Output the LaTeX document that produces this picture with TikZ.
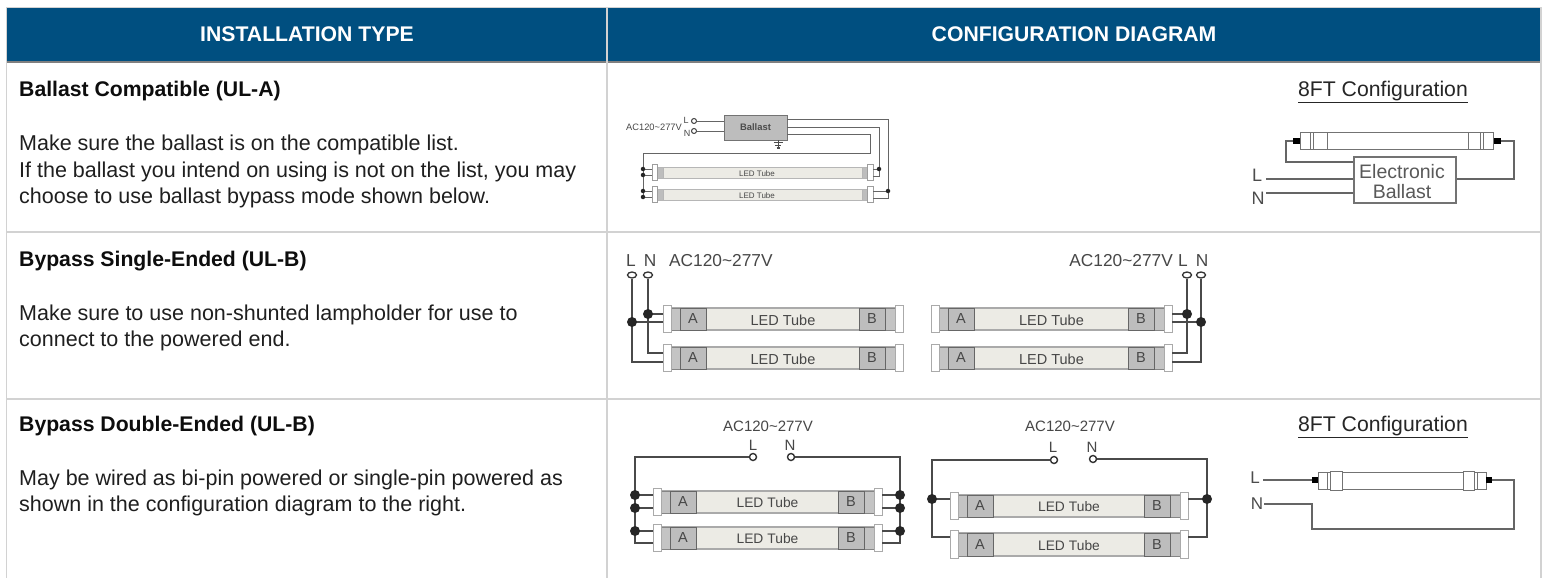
\documentclass[tikz,border=0pt]{standalone}
\usepackage{fontspec}
\setmainfont{Liberation Sans}
\usetikzlibrary{calc,shapes.geometric}
\definecolor{headblue}{HTML}{004F80}
\definecolor{gridgray}{HTML}{D2D2D2}
\definecolor{wirecol}{HTML}{4A4A4A}
\definecolor{labelcol}{HTML}{474747}
\definecolor{bodycol}{HTML}{ECEBE5}
\definecolor{boxcol}{HTML}{BDBDBD}
\definecolor{edgecol}{HTML}{858585}
\newcommand{\fs}[1]{\fontsize{#1}{#1}\selectfont}
\newcommand{\acv}{AC120\textasciitilde 277V}
\newcommand{\tubesize}{14.5}
\tikzset{
  x=1pt,y=-1pt,
  gridline/.style={draw=gridgray,line width=1.3},
  headtext/.style={text=white,font=\fs{21.2}\bfseries,inner sep=0,anchor=center,yshift=-0.5pt},
  ttl/.style={text=black!95,font=\fs{21.2}\bfseries,inner sep=0,anchor=west,yshift=-2pt},
  bodytx/.style={text=black!88,font=\fs{21.5},inner sep=0,anchor=west,yshift=-2pt},
  cfg/.style={text=black!85,font=\fs{21.2},inner sep=0,anchor=center,yshift=-3pt},
  lab/.style={text=labelcol,inner sep=0,anchor=center,yshift=-1pt},
  wire/.style={draw=wirecol,line width=1.6},
  thinwire/.style={draw=wirecol!85,line width=0.9},
  term/.style={circle,draw=black!80,fill=white,line width=1.4,minimum size=7,inner sep=0},
  oterm/.style={ellipse,draw=black!80,fill=white,line width=1.3,minimum width=9,minimum height=6,inner sep=0},
  smallterm/.style={circle,draw=black!75,fill=white,line width=1,minimum size=5,inner sep=0},
  wdot/.style={circle,fill=black!85,minimum size=10,inner sep=0},
  sdot/.style={circle,fill=black!85,minimum size=4.5,inner sep=0},
  capbox/.style={draw=edgecol!70,fill=white,line width=1},
  collar/.style={draw=edgecol,fill=boxcol!90,line width=0.8},
  abbox/.style={draw=black!60,fill=boxcol,line width=0.9,inner sep=0,text=labelcol,font=\fs{14.5}},
  tubebody/.style={draw=edgecol!70,fill=bodycol,line width=1.1},
  gtube/.style={draw=black!55,fill=white,line width=1},
  nub/.style={fill=black,inner sep=0},
}
% name, x, y, width, upper pin offset, lower pin offset, cap height
\newcommand{\bigtube}[7]{%
\begin{scope}[shift={(#2,#3)}]
  \path[tubebody] (8,3) rectangle (#4-8,#7-2);
  \path[collar] (8,3) rectangle (17,#7-2);
  \path[collar] (#4-18,3) rectangle (#4-8,#7-2);
  \node[abbox,minimum width=26,minimum height=#7-5] (#1-A) at (30,{(#7+1)/2}) {A};
  \node[abbox,minimum width=26,minimum height=#7-5] (#1-B) at (#4-31,{(#7+1)/2}) {B};
  \node[lab,font=\fs{\tubesize}] (#1-T) at ({#4/2},{(#7+1)/2}) {LED\hspace{4pt}Tube};
  \path[capbox] (0,0) rectangle (8,#7);
  \path[capbox] (#4-8,0) rectangle (#4,#7);
  \coordinate (#1-L1) at (0,#5); \coordinate (#1-L2) at (0,#6);
  \coordinate (#1-R1) at (#4,#5); \coordinate (#1-R2) at (#4,#6);
\end{scope}}
\newcommand{\tinytube}[3]{%
\begin{scope}[shift={(#2,#3)}]
  \path[draw=edgecol!60,fill=bodycol,line width=0.7] (5,3) rectangle (215,14);
  \path[draw=edgecol!60,fill=boxcol,line width=0.5] (5,3) rectangle (11,14);
  \path[draw=edgecol!60,fill=boxcol,line width=0.5] (210,3) rectangle (215,14);
  \node[lab,font=\fs{8}] (#1-T) at (105,8.5) {LED Tube};
  \path[draw=edgecol!80,fill=white,line width=0.7] (0,0) rectangle (5,16);
  \path[draw=edgecol!80,fill=white,line width=0.7] (215,0) rectangle (221,16);
  \coordinate (#1-L1) at (0,5); \coordinate (#1-L2) at (0,11);
  \coordinate (#1-R1) at (221,5); \coordinate (#1-R2) at (221,12);
\end{scope}}
\begin{document}
\begin{tikzpicture}
\useasboundingbox (0,0) rectangle (1544,578);
\fill[white] (0,0) rectangle (1544,578);
% table
\fill[headblue] (6.5,8) rectangle (1541,62);
\draw[gridline] (6,7.5) -- (1541,7.5);
\draw[draw=black!50,line width=1.2] (6,62) -- (1541,62);
\draw[gridline] (6.5,7.5) -- (6.5,578);
\draw[gridline] (607,7.5) -- (607,578);
\draw[gridline] (1541,7.5) -- (1541,578);
\draw[gridline] (6,232) -- (1541,232);
\draw[gridline] (6,399) -- (1541,399);
\node[headtext] (h1) at (307,34) {INSTALLATION TYPE};
\node[headtext] (h2) at (1074,34) {CONFIGURATION DIAGRAM};
% left column
\node[ttl] (t1) at (19,89) {Ballast Compatible (UL-A)};
\node[bodytx] (b11) at (19,143) {Make sure the ballast is on the compatible list.};
\node[bodytx] (b12) at (19,170) {If the ballast you intend on using is not on the list, you may};
\node[bodytx] (b13) at (19,196) {choose to use ballast bypass mode shown below.};
\node[ttl] (t2) at (19,259) {Bypass Single-Ended (UL-B)};
\node[bodytx] (b21) at (19,313) {Make sure to use non-shunted lampholder for use to};
\node[bodytx] (b22) at (19,339) {connect to the powered end.};
\node[ttl] (t3) at (19,424) {Bypass Double-Ended (UL-B)};
\node[bodytx] (b31) at (19,478) {May be wired as bi-pin powered or single-pin powered as};
\node[bodytx] (b32) at (19,504) {shown in the configuration diagram to the right.};
% ---- row 1 small diagram
\tinytube{sa}{652}{164}
\tinytube{sb}{652}{186}
\node[draw=black!55,fill=boxcol,line width=1,minimum width=63,minimum height=25,inner sep=0,font=\fs{9.4}\bfseries,text=black!70] (bal) at (755.5,127.5) {Ballast};
\node[smallterm] (sL) at (694,121) {};
\node[smallterm] (sN) at (694,131) {};
\node[lab,font=\fs{9.3},anchor=east] (sac) at (682,126) {\acv};
\node[lab,font=\fs{9}] (slL) at (686,119) {L};
\node[lab,font=\fs{9}] (slN) at (687,132) {N};
\coordinate (bo1) at (787,119); \coordinate (bo2) at (787,127); \coordinate (bo3) at (787,134);
\coordinate (bi1) at (724,121); \coordinate (bi2) at (724,131);
\coordinate (sbus1) at (888,119); \coordinate (sbus2) at (879,127); \coordinate (sbus3) at (870,134);
\coordinate (sbus4) at (870,153); \coordinate (sbus5) at (643,153);
\draw[thinwire] (sL) -- (bi1);
\draw[thinwire] (sN) -- (bi2);
\draw[thinwire] (bo1) -- (sbus1) |- (sb-R2) ;
\draw[thinwire] (bo2) -- (sbus2) |- (sa-R2);
\draw[thinwire] (bo3) -- (sbus3) -- (sbus4) -- (sbus5) |- (sb-L2);
\draw[thinwire] (sbus5 |- sa-L1) -- (sa-L1);
\draw[thinwire] (sbus5 |- sa-L2) -- (sa-L2);
\draw[thinwire] (sbus5 |- sb-L1) -- (sb-L1);
\draw[thinwire] (sbus2 |- sa-R1) -- (sa-R1);
\draw[thinwire] (sbus1 |- sb-R1) -- (sb-R1);
\node[sdot] (sd1) at (sbus5 |- sa-L1) {};
\node[sdot] (sd2) at (sbus5 |- sa-L2) {};
\node[sdot] (sd3) at (sbus5 |- sb-L1) {};
\node[sdot] (sd4) at (sbus5 |- sb-L2) {};
\node[sdot] (sd5) at (sbus2 |- sa-R1) {};
\node[sdot] (sd6) at (sbus1 |- sb-R1) {};
\draw[black!70,line width=1] (778,140) -- (778,149);
\draw[black!70,line width=1.1] (773.5,142.5) -- (782.5,142.5);
\draw[black!70,line width=1.1] (775,145.5) -- (781,145.5);
\draw[black!70,line width=1.1] (776.5,148) -- (779.5,148);
% ---- row 1 8FT
\node[cfg] (c1) at (1383,89) {\underline{8FT Configuration}};
\node[draw=black!55,line width=1.1,minimum width=102,minimum height=46,inner sep=0] (eb) at (1405,180) {};
\node[lab,text=black!65,font=\fs{19.5},align=center] (ebt1) at (1402,171) {Electronic};
\node[lab,text=black!65,font=\fs{19.5},align=center] (ebt2) at (1402,191) {Ballast};
\path[gtube] (1327,132) rectangle (1468,149);
\path[gtube] (1300,132) rectangle (1310,149);
\path[gtube] (1310,132) rectangle (1313,149);
\path[gtube] (1313,132) rectangle (1327,149);
\path[gtube] (1468,132) rectangle (1480,149);
\path[gtube] (1480,132) rectangle (1483,149);
\path[gtube] (1483,132) rectangle (1493,149);
\node[nub,minimum width=7,minimum height=6] (n1) at (1296.5,141) {};
\node[nub,minimum width=7,minimum height=6] (n2) at (1497,141) {};
\coordinate (w1a) at (1286,141); \coordinate (w1b) at (1286,162); \coordinate (w1c) at (eb.west |- w1b);
\coordinate (w2a) at (1514,141); \coordinate (w2b) at (1514,179); \coordinate (w2c) at (eb.east |- w2b);
\draw[thinwire,line width=1.1] (n1) -- (w1a) -- (w1b) -- (w1c);
\draw[thinwire,line width=1.1] (n2) -- (w2a) -- (w2b) -- (w2c);
\node[lab,font=\fs{18},text=black!70] (eL) at (1257,174) {L};
\node[lab,font=\fs{18},text=black!70] (eN) at (1258,197) {N};
\coordinate (eLw) at (1266,179); \coordinate (eNw) at (1266,193);
\draw[thinwire,line width=1.1] (eLw) -- (eb.west |- eLw);
\draw[thinwire,line width=1.1] (eNw) -- (eb.west |- eNw);
% ---- row 2 left
\bigtube{ta}{663}{305}{240}{9}{17}{27}
\bigtube{tb}{663}{344}{240}{9}{18}{27}
\node[lab,font=\fs{17.3}] (l2L) at (631,259.5) {L};
\node[lab,font=\fs{17.3}] (l2N) at (650,259.5) {N};
\node[lab,font=\fs{17.3},anchor=west] (l2a) at (669,259.5) {\acv};
\node[oterm] (aL) at (632,275) {};
\node[oterm] (aN) at (648,275) {};
\draw[wire] (aL) |- (tb-L2);
\draw[wire] (aN) |- (tb-L1);
\draw[wire] (aL |- ta-L2) -- (ta-L2);
\draw[wire] (aN |- ta-L1) -- (ta-L1);
\node[wdot] (ad1) at (aL |- ta-L2) {};
\node[wdot] (ad2) at (aN |- ta-L1) {};
% ---- row 2 right
\bigtube{tc}{931}{305}{241}{9}{17}{27}
\bigtube{td}{931}{344}{241}{9}{18}{27}
\node[lab,font=\fs{17.3},anchor=east] (r2a) at (1173,259.5) {\acv};
\node[lab,font=\fs{17.3}] (r2L) at (1183,259.5) {L};
\node[lab,font=\fs{17.3}] (r2N) at (1202,259.5) {N};
\node[oterm] (cL) at (1187,275) {};
\node[oterm] (cN) at (1201,275) {};
\draw[wire] (cL) |- (td-R1);
\draw[wire] (cN) |- (td-R2);
\draw[wire] (cL |- tc-R1) -- (tc-R1);
\draw[wire] (cN |- tc-R2) -- (tc-R2);
\node[wdot] (cd1) at (cL |- tc-R1) {};
\node[wdot] (cd2) at (cN |- tc-R2) {};
% ---- row 3 left
\renewcommand{\tubesize}{13.8}
\bigtube{te}{653}{488}{229}{7}{20}{27}
\bigtube{tf}{653}{524}{229}{7}{19}{27}
\node[lab,font=\fs{15}] (l3a) at (768,425) {\acv};
\node[lab,font=\fs{15}] (l3L) at (753,444) {L};
\node[lab,font=\fs{15}] (l3N) at (790,444) {N};
\node[term] (eeL) at (753,457) {};
\node[term] (eeN) at (791,457) {};
\coordinate (eeLc) at (635,457); \coordinate (eeNc) at (900,457);
\draw[wire,line width=1.2] (eeL) -- (eeLc) |- (tf-L2);
\draw[wire,line width=1.2] (eeN) -- (eeNc) |- (tf-R2);
\draw[wire,line width=1.2] (eeLc |- te-L1) -- (te-L1);
\draw[wire,line width=1.2] (eeLc |- te-L2) -- (te-L2);
\draw[wire,line width=1.2] (eeLc |- tf-L1) -- (tf-L1);
\draw[wire,line width=1.2] (eeNc |- te-R1) -- (te-R1);
\draw[wire,line width=1.2] (eeNc |- te-R2) -- (te-R2);
\draw[wire,line width=1.2] (eeNc |- tf-R1) -- (tf-R1);
\node[wdot] (ed1) at (eeLc |- te-L1) {};
\node[wdot] (ed2) at (eeLc |- te-L2) {};
\node[wdot] (ed3) at (eeLc |- tf-L1) {};
\node[wdot] (ed4) at (eeNc |- te-R1) {};
\node[wdot] (ed5) at (eeNc |- te-R2) {};
\node[wdot] (ed6) at (eeNc |- tf-R1) {};
% ---- row 3 right
\bigtube{tg}{950}{492}{238}{7}{20}{27}
\bigtube{th}{950}{530}{238}{7}{20}{28}
\node[lab,font=\fs{15}] (r3a) at (1070,425) {\acv};
\node[lab,font=\fs{15}] (r3L) at (1053,446) {L};
\node[lab,font=\fs{15}] (r3N) at (1092,446) {N};
\node[term] (ggL) at (1054,460) {};
\node[term] (ggN) at (1093,459) {};
\coordinate (ggLc) at (932,460); \coordinate (ggNc) at (1207,459);
\draw[wire,line width=1.2] (ggL) -- (ggLc) |- (th-L1);
\draw[wire,line width=1.2] (ggN) -- (ggNc) |- (th-R1);
\draw[wire,line width=1.2] (ggLc |- tg-L1) -- (tg-L1);
\draw[wire,line width=1.2] (ggNc |- tg-R1) -- (tg-R1);
\node[wdot] (gd1) at (ggLc |- tg-L1) {};
\node[wdot] (gd2) at (ggNc |- tg-R1) {};
% ---- row 3 8FT
\node[cfg] (c3) at (1383,424) {\underline{8FT Configuration}};
\path[gtube] (1342,472) rectangle (1463,489);
\path[gtube] (1318,472) rectangle (1327,489);
\path[gtube] (1327,472) rectangle (1330,489);
\path[gtube] (1330,471) rectangle (1342,490);
\path[gtube] (1463,471) rectangle (1474,490);
\path[gtube] (1474,472) rectangle (1477,489);
\path[gtube] (1477,472) rectangle (1486,489);
\node[nub,minimum width=6,minimum height=6] (m1) at (1315,480) {};
\node[nub,minimum width=6,minimum height=6] (m2) at (1489,480) {};
\node[lab,font=\fs{17},text=black!70] (mL) at (1255,477) {L};
\node[lab,font=\fs{17},text=black!70] (mN) at (1257,503) {N};
\coordinate (mLw) at (1263,480); \coordinate (mNw) at (1264,504);
\coordinate (mb) at (1514,480); \coordinate (mc) at (1514,529); \coordinate (md) at (1312,529); \coordinate (me) at (1312,504);
\draw[thinwire,line width=1.1] (mLw) -- (m1);
\draw[thinwire,line width=1.1] (m2) -- (mb) -- (mc) -- (md) -- (me) -- (mNw);
\end{tikzpicture}
\end{document}
